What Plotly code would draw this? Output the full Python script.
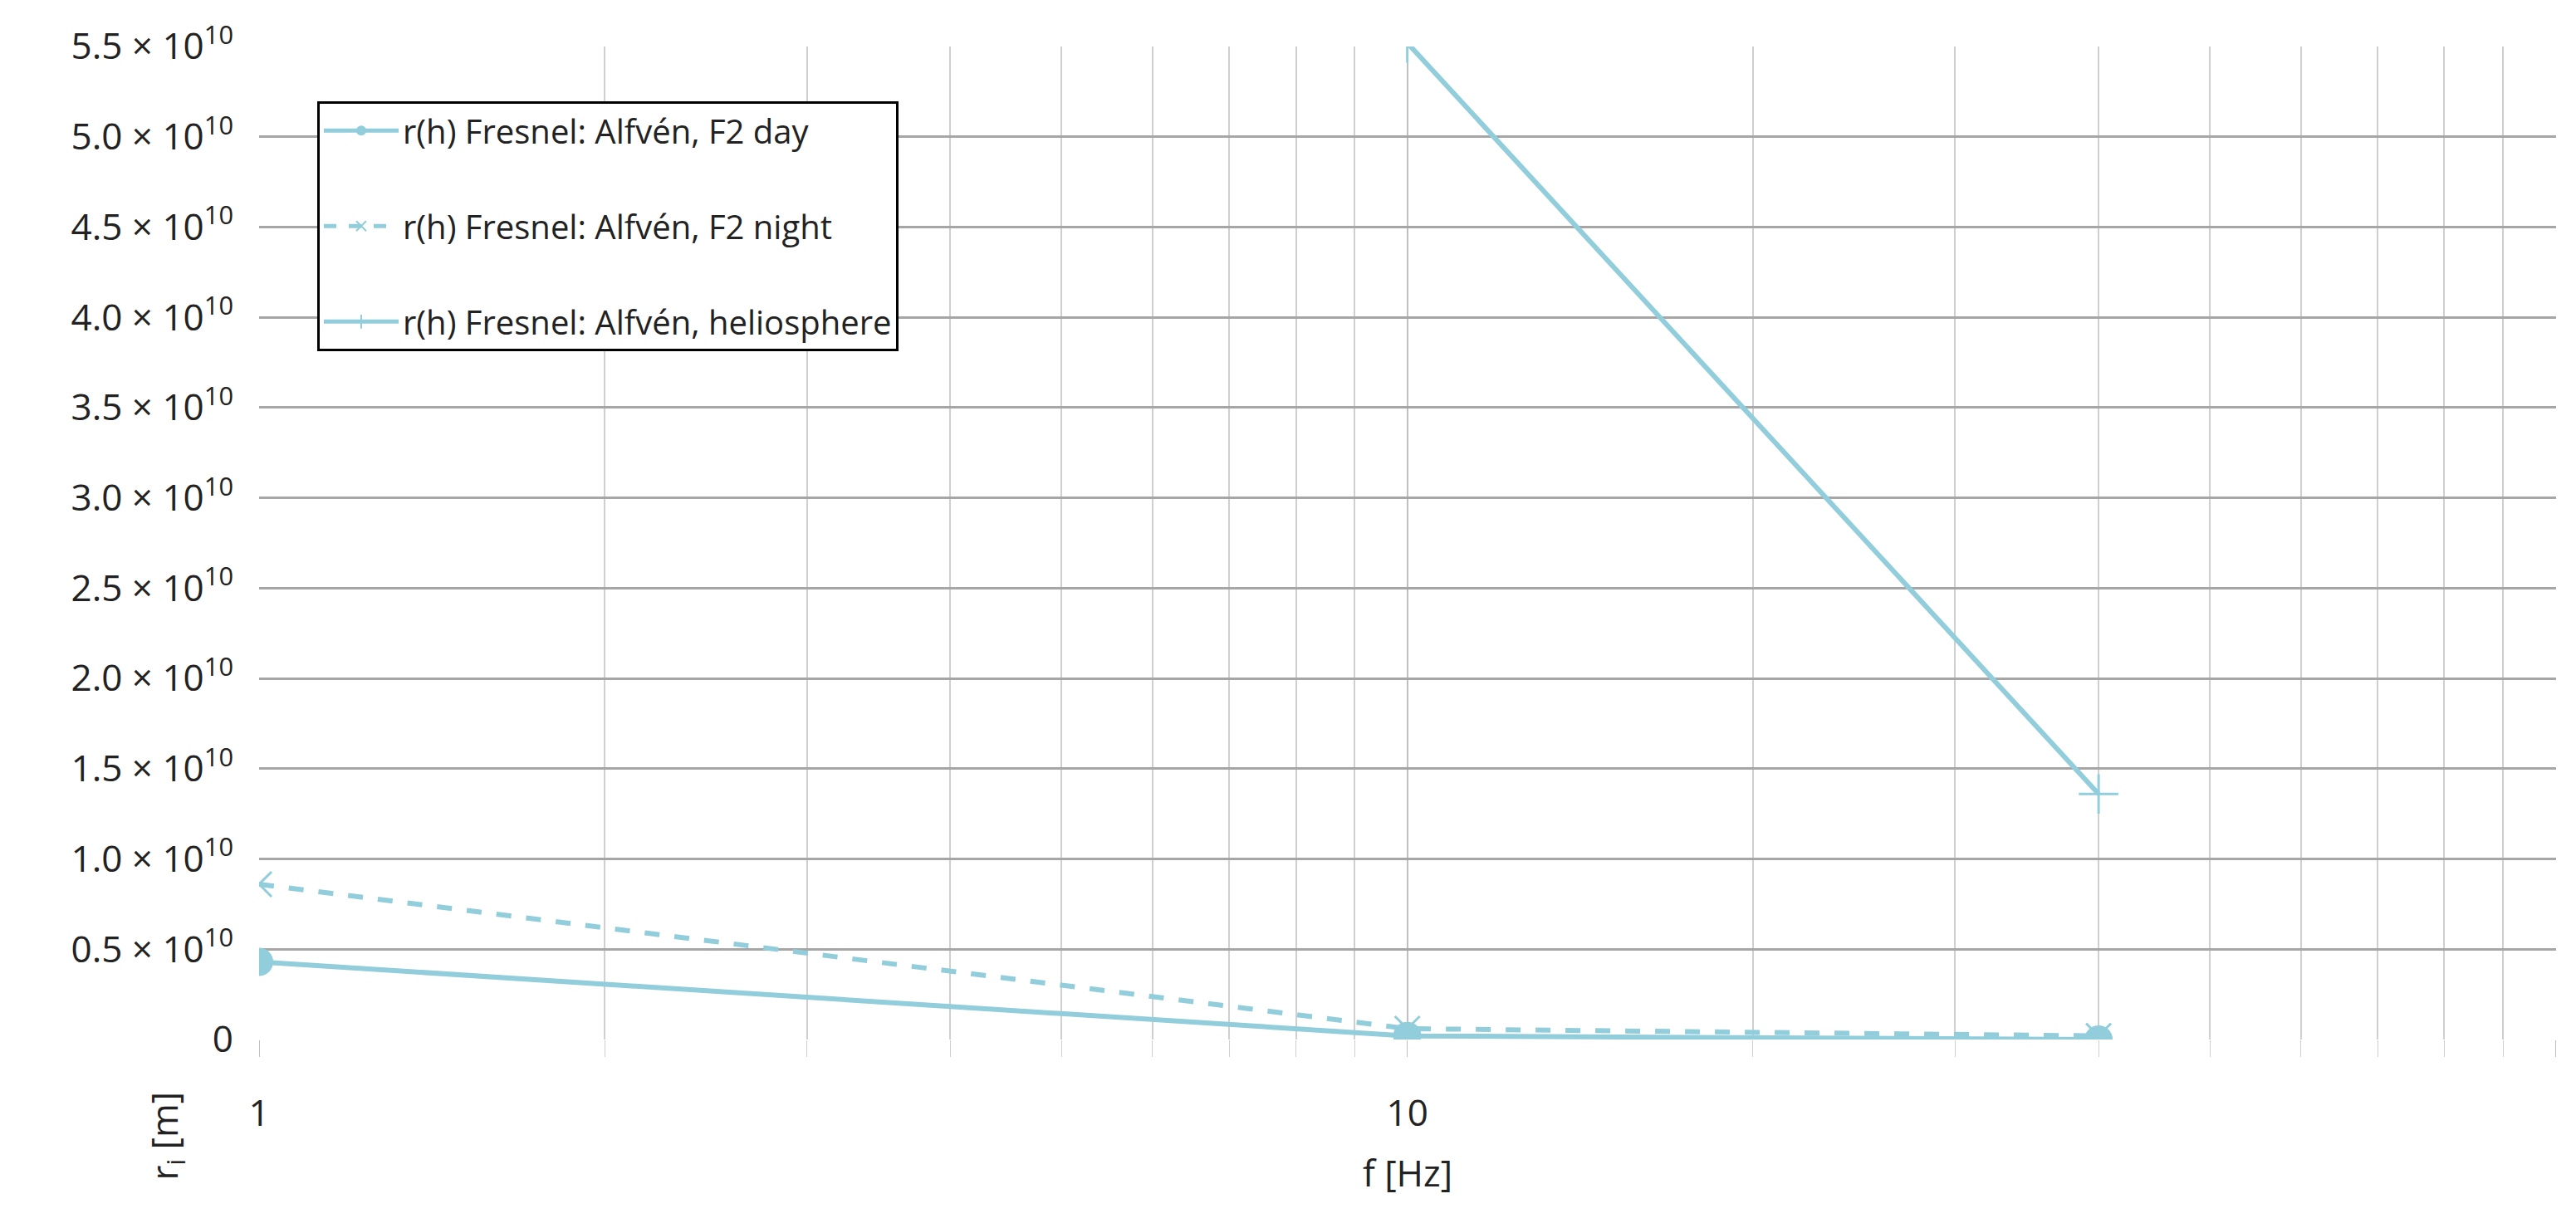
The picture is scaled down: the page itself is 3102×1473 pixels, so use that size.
import plotly.graph_objects as go

f_hz = [1, 10, 40]
day = [0.43e10, 0.02e10, 0.0]
night = [0.86e10, 0.06e10, 0.02e10]
helio = [None, 5.52e10, 1.36e10]
names = ["r(h) Fresnel: Alfvén, F2 day", "r(h) Fresnel: Alfvén, F2 night",
         "r(h) Fresnel: Alfvén, heliosphere"]
ytick_vals = [i * 0.5e10 for i in range(12)]
ytick_text = ["0"] + [f"{v/1e10:.1f} × 10<sup>10</sup>" for v in ytick_vals[1:]]

C = "#92cddc"
FONT = "Liberation Sans Narrow, Open Sans, sans-serif"
fig = go.Figure()
fig.add_trace(go.Scatter(x=f_hz, y=day, name=names[0], mode="lines+markers", legendgroup="a",
                         line=dict(color=C, width=6), marker=dict(symbol="circle", size=34, color=C)))
fig.add_trace(go.Scatter(x=f_hz, y=night, name=names[1], mode="lines+markers", legendgroup="b",
                         line=dict(color=C, width=6, dash="dash"),
                         marker=dict(symbol="x-thin-open", size=30, color=C, line=dict(color=C, width=3))))
fig.add_trace(go.Scatter(x=f_hz, y=helio, name=names[2], mode="lines+markers", legendgroup="c",
                         line=dict(color=C, width=6),
                         marker=dict(symbol="cross-thin-open", size=34, color=C, line=dict(color=C, width=3))))

fig.update_layout(
    width=3102, height=1473, plot_bgcolor="white", paper_bgcolor="white",
    margin=dict(l=304, r=32, t=44, b=229),
    font=dict(family=FONT, size=44, color="#222"),
    showlegend=True,
    legend=dict(x=0.0253, y=0.945, xanchor="left", yanchor="top", bgcolor="white",
                bordercolor="black", borderwidth=3, font=dict(size=40),
                itemwidth=90, tracegroupgap=60, itemsizing="constant"),
    xaxis=dict(type="log", range=[0, 2.0005], tickvals=[1, 10, 100], ticktext=["1", "10", "100"],
               showgrid=True, gridcolor="#bfbfbf", gridwidth=2,
               minor=dict(dtick="D1", showgrid=True, gridcolor="#cfcfcf", gridwidth=2,
                          ticks="outside", ticklen=20, tickcolor="#cfcfcf"),
               ticks="outside", ticklen=20, tickcolor="#bfbfbf", zeroline=False,
               showline=False, ticklabelstandoff=30,
               title=dict(text="f [Hz]", font=dict(size=44), standoff=30)),
    yaxis=dict(range=[0, 5.5e10], tickvals=ytick_vals, ticktext=ytick_text,
               showgrid=True, gridcolor="#a6a6a6", gridwidth=3, zeroline=False,
               ticks="", showline=False, ticklabelstandoff=30),
)
fig.add_annotation(text="r<sub>i</sub> [m]", x=-0.041, y=-0.097, xref="paper", yref="paper",
                   showarrow=False, textangle=-90, font=dict(size=44),
                   xanchor="center", yanchor="middle")
fig.write_html("out.html")
